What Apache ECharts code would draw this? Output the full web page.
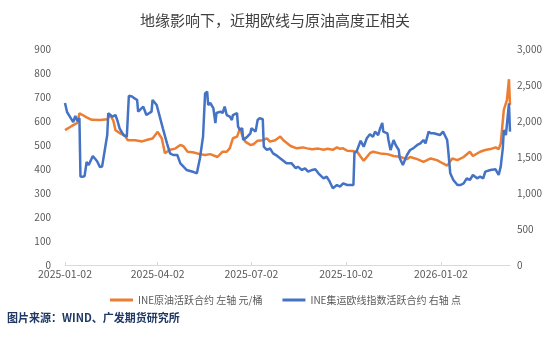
<!DOCTYPE html>
<html>
<head>
<meta charset="utf-8">
<script src="https://cdn.jsdelivr.net/npm/echarts@6/dist/echarts.min.js"></script>
<style>
html,body{margin:0;padding:0;background:#fff;}
#chart{width:550px;height:340px;}
</style>
</head>
<body>
<div id="chart"></div>
<script>
// ---- data ----
const titleText = '地缘影响下，近期欧线与原油高度正相关';
const sourceText = '图片来源：WIND、广发期货研究所';
const oilName = 'INE原油活跃合约 左轴 元/桶';
const ecName = 'INE集运欧线指数活跃合约 右轴 点';

const xTickDates = ['2025-01-02', '2025-04-02', '2025-07-02', '2025-10-02', '2026-01-02'];
const xMin = '2025-01-02';
const xMax = '2026-03-10';
const leftTicks = [0, 100, 200, 300, 400, 500, 600, 700, 800, 900];
const rightTicks = [0, 500, 1000, 1500, 2000, 2500, 3000];

const oilDates = ['2025-01-02','2025-01-07','2025-01-10','2025-01-14','2025-01-16','2025-01-19','2025-01-23','2025-01-28',
  '2025-02-05','2025-02-12','2025-02-15','2025-02-18','2025-02-20','2025-02-24','2025-03-01','2025-03-04','2025-03-11',
  '2025-03-18','2025-03-23','2025-03-28','2025-04-02','2025-04-06','2025-04-09','2025-04-14','2025-04-19','2025-04-24',
  '2025-04-27','2025-05-01','2025-05-06','2025-05-13','2025-05-18','2025-05-23','2025-05-30','2025-06-04','2025-06-08',
  '2025-06-11','2025-06-14','2025-06-18','2025-06-21','2025-06-23','2025-06-26','2025-07-01','2025-07-04','2025-07-08',
  '2025-07-13','2025-07-17','2025-07-20','2025-07-25','2025-07-30','2025-08-02','2025-08-09','2025-08-15','2025-08-21',
  '2025-08-25','2025-08-30','2025-09-05','2025-09-10','2025-09-14','2025-09-19','2025-09-23','2025-09-26','2025-09-29',
  '2025-10-03','2025-10-08','2025-10-13','2025-10-16','2025-10-19','2025-10-22','2025-10-25','2025-10-28','2025-11-04',
  '2025-11-11','2025-11-17','2025-11-23','2025-11-30','2025-12-03','2025-12-10','2025-12-16','2025-12-23','2025-12-29',
  '2026-01-04','2026-01-08','2026-01-13','2026-01-18','2026-01-24','2026-01-30','2026-02-02','2026-02-09','2026-02-14',
  '2026-02-19','2026-02-24','2026-02-27','2026-03-01','2026-03-04','2026-03-05','2026-03-07','2026-03-09','2026-03-10'];
const oilValues = [562,575,583,592,632,625,615,605,
  604,607,625,600,562,550,540,520,520,
  515,522,527,555,527,466,480,485,500,
  495,472,470,462,458,462,450,472,472,
  487,528,535,570,540,514,500,503,518,
  520,528,514,520,535,520,496,486,490,
  486,482,485,480,484,480,490,484,486,
  476,475,470,451,434,450,466,472,465,
  462,454,451,441,450,441,430,444,437,
  423,414,444,437,450,472,454,472,479,
  483,490,483,507,646,660,687,774,667];

const ecDates = ['2025-01-02','2025-01-04','2025-01-07','2025-01-10','2025-01-12','2025-01-14','2025-01-16','2025-01-17',
  '2025-01-19','2025-01-21','2025-01-23','2025-01-25','2025-01-29','2025-02-02','2025-02-05','2025-02-07','2025-02-12',
  '2025-02-13','2025-02-17','2025-02-20','2025-02-22','2025-02-24','2025-02-28','2025-03-03','2025-03-05','2025-03-08',
  '2025-03-11','2025-03-13','2025-03-14','2025-03-19','2025-03-22','2025-03-27','2025-03-28','2025-04-01','2025-04-02',
  '2025-04-07','2025-04-11','2025-04-14','2025-04-17','2025-04-21','2025-04-24','2025-04-27','2025-04-30','2025-05-06',
  '2025-05-10','2025-05-13','2025-05-16','2025-05-18','2025-05-20','2025-05-21','2025-05-23','2025-05-26','2025-05-28',
  '2025-05-29','2025-06-02','2025-06-04','2025-06-06','2025-06-08','2025-06-11','2025-06-13','2025-06-14','2025-06-18',
  '2025-06-19','2025-06-21','2025-06-23','2025-06-24','2025-06-28','2025-07-01','2025-07-02','2025-07-06','2025-07-08',
  '2025-07-10','2025-07-13','2025-07-14','2025-07-17','2025-07-20','2025-07-23','2025-07-27','2025-08-01','2025-08-05',
  '2025-08-10','2025-08-14','2025-08-16','2025-08-20','2025-08-23','2025-08-26','2025-08-30','2025-09-02','2025-09-05',
  '2025-09-10','2025-09-13','2025-09-16','2025-09-19','2025-09-23','2025-09-26','2025-09-29','2025-10-03','2025-10-09',
  '2025-10-10','2025-10-12','2025-10-16','2025-10-19','2025-10-22','2025-10-25','2025-10-28','2025-10-30','2025-11-02',
  '2025-11-04','2025-11-06','2025-11-07','2025-11-11','2025-11-12','2025-11-14','2025-11-17','2025-11-19','2025-11-22',
  '2025-11-23','2025-11-26','2025-11-30','2025-12-03','2025-12-06','2025-12-10','2025-12-13','2025-12-16','2025-12-18',
  '2025-12-21','2025-12-23','2025-12-26','2026-01-01','2026-01-04','2026-01-08','2026-01-09','2026-01-11','2026-01-14',
  '2026-01-18','2026-01-21','2026-01-24','2026-01-27','2026-01-30','2026-02-02','2026-02-06','2026-02-09','2026-02-12',
  '2026-02-14','2026-02-19','2026-02-24','2026-02-27','2026-03-01','2026-03-03','2026-03-04','2026-03-06','2026-03-09',
  '2026-03-10'];
const ecValues = [2250,2125,2055,1986,2070,2000,2040,1230,
  1225,1236,1430,1390,1515,1445,1360,1366,1805,
  2107,2060,2083,2000,1898,1800,1782,2350,2340,
  2310,2292,2130,2199,2083,2130,2292,2222,2199,
  1898,1690,1551,1528,1528,1412,1366,1320,1296,
  1273,1482,1782,2384,2407,2222,2250,2180,1972,
  2111,2130,2110,2199,2083,2060,2014,2083,2110,
  1921,1875,1900,1736,1782,1829,1900,1852,2014,
  2040,2025,1643,1597,1620,1550,1515,1458,1412,
  1412,1343,1366,1320,1343,1296,1320,1329,1273,
  1204,1227,1157,1065,1111,1088,1134,1111,1111,
  1560,1574,1725,1643,1760,1815,1782,1852,1805,
  1900,1972,1852,1829,1736,1597,1736,1667,1597,
  1482,1389,1528,1597,1620,1667,1690,1736,1690,
  1852,1829,1829,1805,1852,1736,1597,1273,1181,
  1111,1111,1134,1204,1181,1250,1204,1227,1204,
  1296,1320,1329,1250,1366,1620,1875,1805,2245,
  1852];

// ---- helpers ----
function ts(s) { const p = s.split('-').map(Number); return Date.UTC(p[0], p[1] - 1, p[2]); }
function fmtDate(v) {
  const d = new Date(v);
  const mm = String(d.getUTCMonth() + 1).padStart(2, '0');
  const dd = String(d.getUTCDate()).padStart(2, '0');
  return d.getUTCFullYear() + '-' + mm + '-' + dd;
}
function fmtThousands(v) { return String(v).replace(/\B(?=(\d{3})+(?!\d))/g, ','); }

const FONT = '"Noto Sans CJK SC", "Noto Sans", sans-serif';
const LABEL_COLOR = '#595959';

const chart = echarts.init(document.getElementById('chart'), null, { renderer: 'canvas' });
chart.setOption({
  animation: false,
  backgroundColor: '#ffffff',
  title: {
    text: titleText,
    left: 'center',
    top: 8,
    textStyle: { fontFamily: FONT, fontSize: 15, fontWeight: 'normal', color: '#404040' }
  },
  legend: {
    top: 290,
    left: 105,
    icon: 'rect',
    itemWidth: 23,
    itemHeight: 3,
    itemGap: 20,
    textStyle: { fontFamily: FONT, fontSize: 10, color: LABEL_COLOR },
    data: [oilName, ecName]
  },
  graphic: [{
    type: 'text',
    left: 7,
    top: 312,
    style: { text: sourceText, font: 'bold 11px ' + FONT, fill: '#1f3864' }
  }],
  grid: { left: 65, right: 40, top: 49, bottom: 75, containLabel: false },
  xAxis: {
    type: 'value',
    min: ts(xMin),
    max: ts(xMax),
    axisLine: { show: true, lineStyle: { color: '#d9d9d9', width: 1 } },
    axisTick: { show: true, inside: true, length: 3, lineStyle: { color: '#d9d9d9' }, customValues: xTickDates.map(ts) },
    axisLabel: {
      customValues: xTickDates.map(ts),
      formatter: function (v) { return fmtDate(v); },
      fontFamily: FONT, fontSize: 10.5, color: LABEL_COLOR, margin: 4,
      hideOverlap: false
    },
    splitLine: { show: false }
  },
  yAxis: [{
    type: 'value',
    min: leftTicks[0],
    max: leftTicks[leftTicks.length - 1],
    interval: leftTicks[1] - leftTicks[0],
    axisLine: { show: false },
    axisTick: { show: false },
    splitLine: { show: false },
    axisLabel: { fontFamily: FONT, fontSize: 10, color: LABEL_COLOR, margin: 14 }
  }, {
    type: 'value',
    position: 'right',
    min: rightTicks[0],
    max: rightTicks[rightTicks.length - 1],
    interval: rightTicks[1] - rightTicks[0],
    axisLine: { show: false },
    axisTick: { show: false },
    splitLine: { show: false },
    axisLabel: { fontFamily: FONT, fontSize: 10, color: LABEL_COLOR, margin: 7, formatter: fmtThousands }
  }],
  series: [{
    name: oilName,
    type: 'line',
    yAxisIndex: 0,
    showSymbol: false,
    symbol: 'none',
    color: '#ED7D31',
    lineStyle: { width: 2.5, color: '#ED7D31' },
    data: oilDates.map((d, i) => [ts(d), oilValues[i]])
  }, {
    name: ecName,
    type: 'line',
    yAxisIndex: 1,
    showSymbol: false,
    symbol: 'none',
    color: '#4472C4',
    lineStyle: { width: 2.5, color: '#4472C4' },
    data: ecDates.map((d, i) => [ts(d), ecValues[i]])
  }]
});
</script>
</body>
</html>
